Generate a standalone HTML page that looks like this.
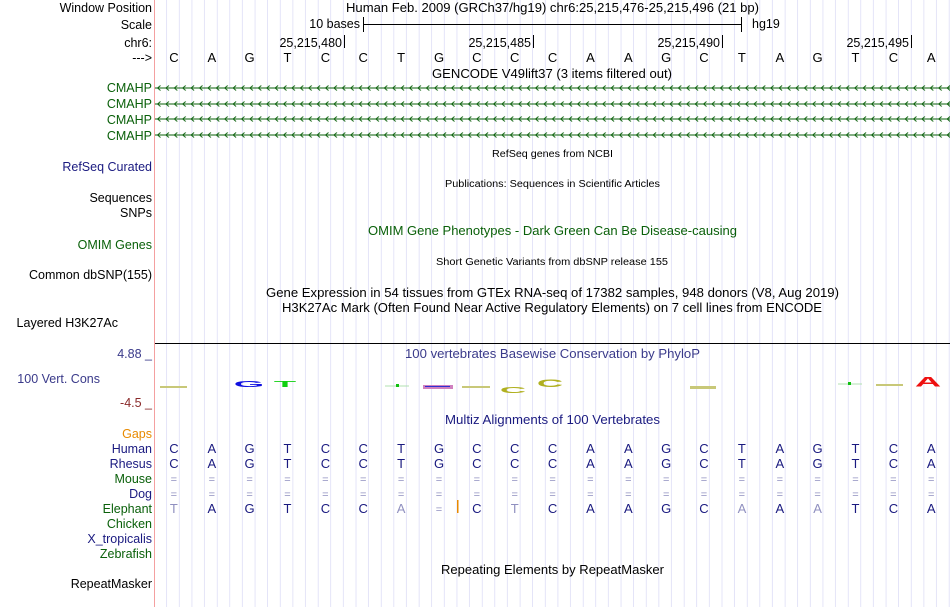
<!DOCTYPE html>
<html><head><meta charset="utf-8"><style>
html,body{margin:0;padding:0;background:#fff;}
svg{display:block;font-family:"Liberation Sans",sans-serif;}
</style></head><body>
<svg width="950" height="607" viewBox="0 0 950 607" xmlns="http://www.w3.org/2000/svg">
<defs>
<pattern id="grid" x="154.4" y="0" width="12.62" height="10" patternUnits="userSpaceOnUse">
<rect x="12" y="0" width="1" height="10" fill="#d4d4f4"/>
</pattern>
<pattern id="chev" x="155" y="0" width="8.4" height="10" patternUnits="userSpaceOnUse">
<path d="M5.5,2.5 L2.5,5 L5.5,7.5" fill="none" stroke="#0a600a" stroke-width="0.9"/>
</pattern>
</defs>
<rect x="0" y="0" width="950" height="607" fill="#fff"/>
<rect x="155" y="0" width="795" height="607" fill="url(#grid)"/>
<line x1="154.5" y1="0" x2="154.5" y2="607" stroke="#f4a0a0" stroke-width="1"/>

<g font-size="12.5" text-anchor="end" fill="#000">
<text x="152" y="12">Window Position</text>
<text x="152" y="29">Scale</text>
<text x="152" y="47">chr6:</text>
<text x="152" y="62">---&gt;</text>
<g fill="#0a600a"><text x="152" y="92">CMAHP</text><text x="152" y="108">CMAHP</text><text x="152" y="124">CMAHP</text><text x="152" y="140">CMAHP</text></g>
<text x="152" y="171" fill="#1a1a80">RefSeq Curated</text>
<text x="152" y="202">Sequences</text>
<text x="152" y="217">SNPs</text>
<text x="152" y="249" fill="#0a600a">OMIM Genes</text>
<text x="152" y="279">Common dbSNP(155)</text>
<text x="118" y="327">Layered H3K27Ac</text>
<text x="152" y="358" fill="#3a3a8a">4.88 _</text>
<text x="100" y="383" fill="#3a3a8a">100 Vert. Cons</text>
<text x="152" y="407" fill="#8a2a2a">-4.5 _</text>
<text x="152" y="438" fill="#e88a00">Gaps</text>
<text x="152" y="453" fill="#1a1a80">Human</text>
<text x="152" y="468" fill="#1a1a80">Rhesus</text>
<text x="152" y="483" fill="#0a600a">Mouse</text>
<text x="152" y="498" fill="#1a1a80">Dog</text>
<text x="152" y="513" fill="#0a600a">Elephant</text>
<text x="152" y="528" fill="#0a600a">Chicken</text>
<text x="152" y="543" fill="#1a1a80">X_tropicalis</text>
<text x="152" y="558" fill="#0a600a">Zebrafish</text>
<text x="152" y="588">RepeatMasker</text>
</g>

<text x="346" y="12" font-size="12.5" textLength="413" lengthAdjust="spacingAndGlyphs">Human Feb. 2009 (GRCh37/hg19)   chr6:25,215,476-25,215,496 (21 bp)</text>
<text x="360" y="28" font-size="12.5" text-anchor="end">10 bases</text>
<line x1="363" y1="24.5" x2="741" y2="24.5" stroke="#000"/>
<line x1="363.5" y1="17" x2="363.5" y2="32" stroke="#000"/>
<line x1="741.5" y1="17" x2="741.5" y2="32" stroke="#000"/>
<text x="752" y="28" font-size="12.5">hg19</text>
<g font-size="12.5" text-anchor="end">
<text x="342" y="47">25,215,480</text><text x="531" y="47">25,215,485</text><text x="720" y="47">25,215,490</text><text x="909" y="47">25,215,495</text>
</g>
<g stroke="#000"><line x1="344.5" y1="35" x2="344.5" y2="48"/><line x1="533.5" y1="35" x2="533.5" y2="48"/><line x1="722.5" y1="35" x2="722.5" y2="48"/><line x1="911.5" y1="35" x2="911.5" y2="48"/></g>

<g font-size="13" text-anchor="middle" fill="#000">
<text x="173.9" y="62">C</text><text x="211.8" y="62">A</text><text x="249.6" y="62">G</text><text x="287.5" y="62">T</text><text x="325.4" y="62">C</text><text x="363.2" y="62">C</text><text x="401.1" y="62">T</text><text x="439" y="62">G</text><text x="476.8" y="62">C</text><text x="514.7" y="62">C</text><text x="552.6" y="62">C</text><text x="590.4" y="62">A</text><text x="628.3" y="62">A</text><text x="666.2" y="62">G</text><text x="704" y="62">C</text><text x="741.9" y="62">T</text><text x="779.8" y="62">A</text><text x="817.6" y="62">G</text><text x="855.5" y="62">T</text><text x="893.4" y="62">C</text><text x="931.2" y="62">A</text>
</g>
<text x="432" y="78" font-size="12.5" textLength="240" lengthAdjust="spacingAndGlyphs">GENCODE V49lift37 (3 items filtered out)</text>

<g transform="translate(0,83)"><rect x="155" y="0" width="795" height="10" fill="url(#chev)"/><line x1="155" y1="5" x2="950" y2="5" stroke="#0a600a"/></g>
<g transform="translate(0,99)"><rect x="155" y="0" width="795" height="10" fill="url(#chev)"/><line x1="155" y1="5" x2="950" y2="5" stroke="#0a600a"/></g>
<g transform="translate(0,114)"><rect x="155" y="0" width="795" height="10" fill="url(#chev)"/><line x1="155" y1="5" x2="950" y2="5" stroke="#0a600a"/></g>
<g transform="translate(0,130)"><rect x="155" y="0" width="795" height="10" fill="url(#chev)"/><line x1="155" y1="5" x2="950" y2="5" stroke="#0a600a"/></g>

<text x="492" y="157" font-size="10" textLength="121" lengthAdjust="spacingAndGlyphs">RefSeq genes from NCBI</text>
<text x="445" y="187" font-size="10" textLength="215" lengthAdjust="spacingAndGlyphs">Publications: Sequences in Scientific Articles</text>
<text x="368" y="235" font-size="12.5" fill="#0a600a" textLength="369" lengthAdjust="spacingAndGlyphs">OMIM Gene Phenotypes - Dark Green Can Be Disease-causing</text>
<text x="436" y="265" font-size="10" textLength="232" lengthAdjust="spacingAndGlyphs">Short Genetic Variants from dbSNP release 155</text>
<text x="266" y="297" font-size="12.5" textLength="573" lengthAdjust="spacingAndGlyphs">Gene Expression in 54 tissues from GTEx RNA-seq of 17382 samples, 948 donors (V8, Aug 2019)</text>
<text x="282" y="312" font-size="12.5" textLength="540" lengthAdjust="spacingAndGlyphs">H3K27Ac Mark (Often Found Near Active Regulatory Elements) on 7 cell lines from ENCODE</text>

<line x1="155" y1="343.5" x2="950" y2="343.5" stroke="#000"/>
<text x="405" y="358" font-size="12.5" fill="#3a3a8a" textLength="295" lengthAdjust="spacingAndGlyphs">100 vertebrates Basewise Conservation by PhyloP</text>

<rect x="160" y="386" width="27" height="2" fill="#c8c878"/>
<text x="0" y="0" font-size="14" font-weight="bold" fill="#1010e0" text-anchor="middle" transform="translate(249,387) scale(2.8,0.6)">G</text>
<text x="0" y="0" font-size="14" font-weight="bold" fill="#10d010" text-anchor="middle" transform="translate(285,387) scale(2.6,0.6)">T</text>
<rect x="385" y="385.5" width="24" height="1" fill="#b0e0b0"/><rect x="396" y="384" width="3" height="3" fill="#10c010"/>
<rect x="423" y="385" width="30" height="4" fill="#d080c0"/><rect x="425" y="386" width="25" height="1" fill="#3030d0"/>
<rect x="462" y="386" width="28" height="2" fill="#c8c878"/>
<text x="0" y="0" font-size="14" font-weight="bold" fill="#b0b020" text-anchor="middle" transform="translate(513,393) scale(2.6,0.6)">C</text>
<text x="0" y="0" font-size="14" font-weight="bold" fill="#b0b020" text-anchor="middle" transform="translate(550,387) scale(2.6,0.8)">C</text>
<rect x="690" y="386" width="26" height="3" fill="#c8c878"/>
<rect x="838" y="383.5" width="24" height="1" fill="#b0e0b0"/><rect x="848" y="382" width="3" height="3" fill="#10c010"/>
<rect x="876" y="384" width="27" height="2" fill="#c8c878"/>
<text x="0" y="0" font-size="14" font-weight="bold" fill="#ee1010" text-anchor="middle" transform="translate(928,386.5) scale(2.6,1.0)">A</text>

<text x="445" y="424" font-size="12.5" fill="#1a1a80" textLength="215" lengthAdjust="spacingAndGlyphs">Multiz Alignments of 100 Vertebrates</text>

<g font-size="13" text-anchor="middle" fill="#1a1a80">
<g transform="translate(0,453)"><text x="173.9">C</text><text x="211.8">A</text><text x="249.6">G</text><text x="287.5">T</text><text x="325.4">C</text><text x="363.2">C</text><text x="401.1">T</text><text x="439">G</text><text x="476.8">C</text><text x="514.7">C</text><text x="552.6">C</text><text x="590.4">A</text><text x="628.3">A</text><text x="666.2">G</text><text x="704">C</text><text x="741.9">T</text><text x="779.8">A</text><text x="817.6">G</text><text x="855.5">T</text><text x="893.4">C</text><text x="931.2">A</text></g>
<g transform="translate(0,468)"><text x="173.9">C</text><text x="211.8">A</text><text x="249.6">G</text><text x="287.5">T</text><text x="325.4">C</text><text x="363.2">C</text><text x="401.1">T</text><text x="439">G</text><text x="476.8">C</text><text x="514.7">C</text><text x="552.6">C</text><text x="590.4">A</text><text x="628.3">A</text><text x="666.2">G</text><text x="704">C</text><text x="741.9">T</text><text x="779.8">A</text><text x="817.6">G</text><text x="855.5">T</text><text x="893.4">C</text><text x="931.2">A</text></g>
<g fill="#9090c0" font-size="11"><g transform="translate(0,483)"><text x="173.9">=</text><text x="211.8">=</text><text x="249.6">=</text><text x="287.5">=</text><text x="325.4">=</text><text x="363.2">=</text><text x="401.1">=</text><text x="439">=</text><text x="476.8">=</text><text x="514.7">=</text><text x="552.6">=</text><text x="590.4">=</text><text x="628.3">=</text><text x="666.2">=</text><text x="704">=</text><text x="741.9">=</text><text x="779.8">=</text><text x="817.6">=</text><text x="855.5">=</text><text x="893.4">=</text><text x="931.2">=</text></g>
<g transform="translate(0,498)"><text x="173.9">=</text><text x="211.8">=</text><text x="249.6">=</text><text x="287.5">=</text><text x="325.4">=</text><text x="363.2">=</text><text x="401.1">=</text><text x="439">=</text><text x="476.8">=</text><text x="514.7">=</text><text x="552.6">=</text><text x="590.4">=</text><text x="628.3">=</text><text x="666.2">=</text><text x="704">=</text><text x="741.9">=</text><text x="779.8">=</text><text x="817.6">=</text><text x="855.5">=</text><text x="893.4">=</text><text x="931.2">=</text></g></g>
<g transform="translate(0,513)"><text x="173.9" fill="#9090c0">T</text><text x="211.8">A</text><text x="249.6">G</text><text x="287.5">T</text><text x="325.4">C</text><text x="363.2">C</text><text x="401.1" fill="#9090c0">A</text><text x="439" fill="#9090c0" font-size="11">=</text><text x="476.8">C</text><text x="514.7" fill="#9090c0">T</text><text x="552.6">C</text><text x="590.4">A</text><text x="628.3">A</text><text x="666.2">G</text><text x="704">C</text><text x="741.9" fill="#9090c0">A</text><text x="779.8">A</text><text x="817.6" fill="#9090c0">A</text><text x="855.5">T</text><text x="893.4">C</text><text x="931.2">A</text></g>
</g>
<rect x="457" y="500" width="1.5" height="13" fill="#e88a00"/>

<text x="441" y="574" font-size="12.5" textLength="223" lengthAdjust="spacingAndGlyphs">Repeating Elements by RepeatMasker</text>
</svg>
</body></html>
